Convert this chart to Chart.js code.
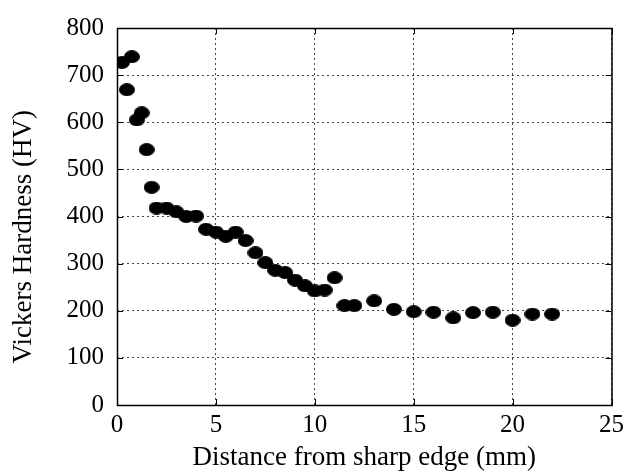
<!DOCTYPE html>
<html>
<head>
<meta charset="utf-8">
<script src="https://cdn.jsdelivr.net/npm/chart.js@4.4.1/dist/chart.umd.min.js"></script>
<style>
    html, body { margin: 0; padding: 0; background: #fff; }
    #wrap { width: 629px; height: 474px; }
</style>
</head>
<body>
<div id="wrap"><canvas id="hvChart" width="629" height="474"></canvas></div>
<script>
(function () {
    'use strict';

    // distance from sharp edge (mm) and measured hardness (HV)
    const distances = [0.25, 0.5, 0.75, 1, 1.25, 1.5, 1.75, 2, 2.5, 3, 3.5, 4, 4.5, 5, 5.5, 6, 6.5,
        7, 7.5, 8, 8.5, 9, 9.5, 10, 10.5, 11, 11.5, 12, 13, 14, 15, 16, 17, 18, 19, 20, 21, 22];
    const hardness = [727, 669, 739, 605, 620, 542, 462, 418, 418, 410, 400, 401, 373, 367, 358, 367, 349,
        323, 302, 286, 281, 265, 253, 242, 244, 270, 211, 211, 221, 203, 198, 197, 185, 196, 197, 180, 193, 193];
    const xTicks = [0, 5, 10, 15, 20, 25];
    const yTicks = [0, 100, 200, 300, 400, 500, 600, 700, 800];

    const serif = "'Liberation Serif', 'DejaVu Serif', serif";

    function makeDot(w, h) {
        const c = document.createElement('canvas');
        c.width = w;
        c.height = h;
        const g = c.getContext('2d');
        g.fillStyle = '#000';
        g.beginPath();
        g.ellipse(w / 2, h / 2, w / 2, h / 2, 0, 0, Math.PI * 2);
        g.fill();
        return c;
    }

    // solid frame plus inward tick marks on all four sides
    const framePlugin = {
        id: 'frame',
        beforeDatasetsDraw: function (chart) {
            const ctx = chart.ctx;
            const a = chart.chartArea;
            const xs = chart.scales.x;
            const ys = chart.scales.y;
            const len = 6;
            ctx.save();
            ctx.strokeStyle = '#000';
            ctx.lineWidth = 1.5;
            ctx.setLineDash([]);
            ctx.strokeRect(a.left + 0.5, a.top + 0.5, a.right - a.left, a.bottom - a.top);
            ctx.lineWidth = 1;
            ctx.beginPath();
            xTicks.forEach(function (v) {
                const px = Math.round(xs.getPixelForValue(v)) + 0.5;
                ctx.moveTo(px, a.bottom);
                ctx.lineTo(px, a.bottom - len);
                ctx.moveTo(px, a.top);
                ctx.lineTo(px, a.top + len);
            });
            yTicks.forEach(function (v) {
                const py = Math.round(ys.getPixelForValue(v)) + 0.5;
                ctx.moveTo(a.left, py);
                ctx.lineTo(a.left + len, py);
                ctx.moveTo(a.right, py);
                ctx.lineTo(a.right - len, py);
            });
            ctx.stroke();
            ctx.restore();
        }
    };

    const points = distances.map(function (d, i) { return { x: d, y: hardness[i] }; });

    new Chart(document.getElementById('hvChart'), {
        type: 'scatter',
        data: {
            datasets: [{
                data: points,
                pointStyle: makeDot(16, 13),
                pointRadius: 8,
                pointHoverRadius: 8,
                backgroundColor: '#000',
                borderColor: '#000'
            }]
        },
        options: {
            responsive: false,
            animation: false,
            events: [],
            layout: { padding: { left: 0, right: 14, top: 23, bottom: 0 } },
            plugins: { legend: { display: false }, tooltip: { enabled: false } },
            scales: {
                x: {
                    type: 'linear',
                    min: 0,
                    max: 25,
                    afterBuildTicks: function (scale) {
                        scale.ticks = xTicks.map(function (v) { return { value: v }; });
                    },
                    afterFit: function (scale) { scale.height = 69; },
                    grid: { color: '#444', lineWidth: 1, drawTicks: false },
                    border: { display: false, dash: [2, 3] },
                    ticks: {
                        color: '#000',
                        padding: 5,
                        maxRotation: 0,
                        font: { family: serif, size: 25 }
                    },
                    title: {
                        display: true,
                        text: 'Distance from sharp edge (mm)',
                        color: '#000',
                        font: { family: serif, size: 27 },
                        padding: { top: 0, bottom: 0 }
                    }
                },
                y: {
                    type: 'linear',
                    min: 0,
                    max: 800,
                    afterBuildTicks: function (scale) {
                        scale.ticks = yTicks.map(function (v) { return { value: v }; });
                    },
                    afterFit: function (scale) { scale.width = 117; },
                    grid: { color: '#444', lineWidth: 1, drawTicks: false },
                    border: { display: false, dash: [2, 3] },
                    ticks: {
                        color: '#000',
                        padding: 13,
                        font: { family: serif, size: 25 }
                    },
                    title: {
                        display: true,
                        // trailing spaces push the rotated label down a little, as in the original
                        text: 'Vickers Hardness (HV)      ',
                        color: '#000',
                        font: { family: serif, size: 27 },
                        padding: { top: 8, bottom: 0 }
                    }
                }
            }
        },
        plugins: [framePlugin]
    });
})();
</script>
</body>
</html>
